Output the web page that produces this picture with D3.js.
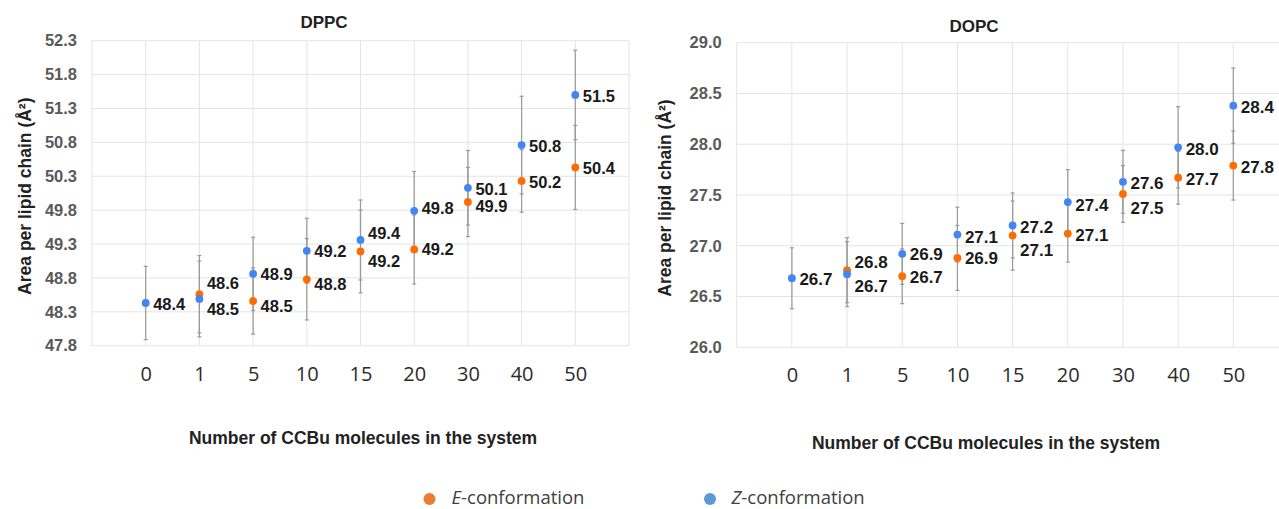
<!DOCTYPE html>
<html>
<head>
<meta charset="utf-8">
<script src="https://cdnjs.cloudflare.com/ajax/libs/d3/7.8.5/d3.min.js"></script>
<style>
  body { margin: 0; background: #fff; }
  svg { display: block; }
</style>
</head>
<body>
<div id="chart"></div>
<script>
// data
var categories = ["0", "1", "5", "10", "15", "20", "30", "40", "50"];

var dppcE = [null, 48.56, 48.46, 48.78, 49.19, 49.22, 49.92, 50.23, 50.43];
var dppcZ = [48.43, 48.49, 48.86, 49.20, 49.36, 49.79, 50.13, 50.76, 51.50];
var dppcEerr = [null, 0.57, 0.49, 0.60, 0.61, 0.51, 0.51, 0.46, 0.62];
var dppcZerr = [0.54, 0.56, 0.54, 0.48, 0.59, 0.58, 0.55, 0.72, 0.66];
var dppcTicks = [47.8, 48.3, 48.8, 49.3, 49.8, 50.3, 50.8, 51.3, 51.8, 52.3];

var dopcE = [null, 26.76, 26.70, 26.88, 27.10, 27.12, 27.51, 27.67, 27.79];
var dopcZ = [26.68, 26.72, 26.92, 27.11, 27.20, 27.43, 27.63, 27.97, 28.38];
var dopcEerr = [null, 0.32, 0.27, 0.32, 0.34, 0.28, 0.28, 0.26, 0.34];
var dopcZerr = [0.30, 0.32, 0.30, 0.27, 0.32, 0.32, 0.31, 0.40, 0.37];
var dopcTicks = [26.0, 26.5, 27.0, 27.5, 28.0, 28.5, 29.0];

var svgwidth = 1279;
var svgheight = 509;

var orange = "#ff6d01";
var blue = "#4285f4";

var svg = d3.select("#chart").append("svg")
  .attr("width", svgwidth)
  .attr("height", svgheight);

function drawPanel(p) {
  var g = svg.append("g");

  var xscale = d3.scalePoint()
    .domain(categories)
    .range([p.x0, p.x1])
    .padding(1);

  var yscale = d3.scaleLinear()
    .domain(p.domain)
    .range([p.yBot, p.yTop]);

  // grid
  var vx = [p.x0, p.x1].concat(categories.map(c => xscale(c)));
  g.selectAll(".vgrid").data(vx).enter().append("line")
    .attr("x1", d => d).attr("x2", d => d)
    .attr("y1", p.yTop).attr("y2", p.yBot)
    .attr("stroke", "#e4e4e4").attr("stroke-width", 1);

  g.selectAll(".hgrid").data(p.ticks).enter().append("line")
    .attr("x1", p.x0).attr("x2", p.x1)
    .attr("y1", d => yscale(d)).attr("y2", d => yscale(d))
    .attr("stroke", "#e4e4e4").attr("stroke-width", 1);

  // axes
  var yaxis = d3.axisLeft(yscale).tickValues(p.ticks)
    .tickFormat(d3.format(".1f")).tickSize(0).tickPadding(15);
  var ya = g.append("g").attr("transform", `translate(${p.x0},0)`).call(yaxis);
  ya.select(".domain").remove();
  ya.selectAll("text")
    .attr("font-family", "Liberation Sans, Arial, sans-serif")
    .attr("font-weight", "bold")
    .attr("font-size", "16.5px")
    .attr("fill", "#595959");

  var xaxis = d3.axisBottom(xscale).tickSize(0).tickPadding(p.xPad);
  var xa = g.append("g").attr("transform", `translate(0,${p.yBot})`).call(xaxis);
  xa.select(".domain").remove();
  xa.selectAll("text")
    .attr("font-family", "Open Sans, sans-serif")
    .attr("font-size", "20px")
    .attr("fill", "#2b2b2b");

  // error bars
  function errbars(vals, errs) {
    var idx = d3.range(vals.length).filter(i => vals[i] != null);
    var eb = g.append("g").selectAll("g").data(idx).enter().append("g")
      .attr("stroke", "#9a9a9a").attr("stroke-width", 1.2);
    eb.append("line")
      .attr("x1", i => xscale(categories[i])).attr("x2", i => xscale(categories[i]))
      .attr("y1", i => yscale(vals[i] + errs[i])).attr("y2", i => yscale(vals[i] - errs[i]));
    [1, -1].forEach(function(s) {
      eb.append("line")
        .attr("x1", i => xscale(categories[i]) - 2).attr("x2", i => xscale(categories[i]) + 2)
        .attr("y1", i => yscale(vals[i] + s * errs[i])).attr("y2", i => yscale(vals[i] + s * errs[i]));
    });
  }
  errbars(p.E, p.Eerr);
  errbars(p.Z, p.Zerr);

  // points and labels
  function series(vals, color, shift) {
    var idx = d3.range(vals.length).filter(i => vals[i] != null);
    g.append("g").selectAll("circle").data(idx).enter().append("circle")
      .attr("cx", i => xscale(categories[i]))
      .attr("cy", i => yscale(vals[i]))
      .attr("r", 3.9)
      .attr("fill", color);
    g.append("g").selectAll("text").data(idx).enter().append("text")
      .text(i => vals[i].toFixed(1))
      .attr("x", i => xscale(categories[i]) + 7.5)
      .attr("y", i => yscale(vals[i]) + shift[i])
      .attr("dy", "0.36em")
      .attr("font-family", "Liberation Sans, Arial, sans-serif")
      .attr("font-weight", "bold")
      .attr("font-size", p.labelSize)
      .attr("fill", "#1a1a1a");
  }
  series(p.E, orange, p.Eshift);
  series(p.Z, blue, p.Zshift);

  // titles
  g.append("text")
    .attr("x", p.titleX).attr("y", p.titleY)
    .attr("text-anchor", "middle")
    .attr("font-family", "Liberation Sans, Arial, sans-serif")
    .attr("font-weight", "bold").attr("font-size", "17px")
    .attr("fill", "#222")
    .text(p.title);

  g.append("text")
    .attr("transform", `translate(${p.yTitleX}, ${(p.yTop + p.yBot) / 2 + 3}) rotate(-90)`)
    .attr("text-anchor", "middle")
    .attr("font-family", "Liberation Sans, Arial, sans-serif")
    .attr("font-weight", "bold").attr("font-size", "17.5px")
    .attr("fill", "#222")
    .text("Area per lipid chain (Å²)");

  g.append("text")
    .attr("x", p.xTitleX).attr("y", p.xTitleY)
    .attr("text-anchor", "middle")
    .attr("font-family", "Liberation Sans, Arial, sans-serif")
    .attr("font-weight", "bold").attr("font-size", "17.5px")
    .attr("fill", "#222")
    .text("Number of CCBu molecules in the system");
}

drawPanel({
  E: dppcE, Z: dppcZ, Eerr: dppcEerr, Zerr: dppcZerr, ticks: dppcTicks,
  domain: [47.8, 52.3], x0: 92, x1: 629, yTop: 40.7, yBot: 345.7, xPad: 21,
  Eshift: [0, -11, 5, 5, 10, 0, 4, 1, 1], Zshift: [1, 10, 0, 0, -7, -3, 1, 1, 1],
  labelSize: "16.5px",
  title: "DPPC", titleX: 324, titleY: 28, yTitleX: 31, xTitleX: 363, xTitleY: 444
});

drawPanel({
  E: dopcE, Z: dopcZ, Eerr: dopcEerr, Zerr: dopcZerr, ticks: dopcTicks,
  domain: [26.0, 29.0], x0: 736.7, x1: 1288.5, yTop: 42.7, yBot: 347.3, xPad: 20.5,
  Eshift: [0, -8, 1, 0, 14, 1, 14, 1, 1], Zshift: [1, 12, 0, 2, 1, 3, 1, 2, 1],
  labelSize: "17px",
  title: "DOPC", titleX: 974, titleY: 32, yTitleX: 671, xTitleX: 986, xTitleY: 449
});

// legend
var legend = svg.append("g");
var legendItems = [
  {key: "E", color: "#ed7d31", cx: 429.5, tx: 451.5},
  {key: "Z", color: "#5b9bd5", cx: 710, tx: 731.5}
];
legendItems.forEach(function(d) {
  legend.append("circle").attr("cx", d.cx).attr("cy", 499).attr("r", 6).attr("fill", d.color);
  var t = legend.append("text").attr("x", d.tx).attr("y", 504)
    .attr("font-family", "Open Sans, sans-serif").attr("font-size", "18.5px").attr("fill", "#404040");
  t.append("tspan").attr("font-style", "italic").text(d.key);
  t.append("tspan").text("-conformation");
});
</script>
</body>
</html>
